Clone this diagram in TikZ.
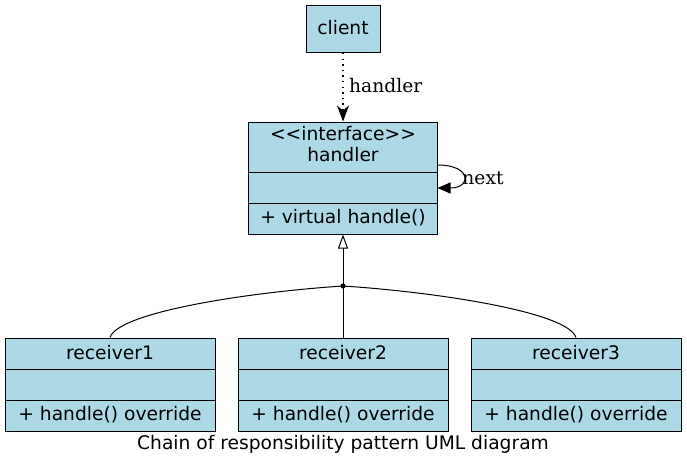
\documentclass[tikz,border=0pt]{standalone}
\usepackage{fontspec}
\setmainfont{DejaVu Sans}
\newfontfamily\lblfont{DejaVu Serif}
\usetikzlibrary{arrows.meta}
\definecolor{clsfill}{HTML}{ADD8E6}
\tikzset{
  cls/.style={draw=black, fill=clsfill, line width=1pt, rectangle, inner sep=0pt},
  txt/.style={inner sep=0pt, font=\fontsize{18.67}{22}\selectfont},
  lbl/.style={inner sep=0pt, font=\lblfont\fontsize{18.67}{22}\selectfont},
  conn/.style={line width=1pt, black},
}
\begin{document}
\begin{tikzpicture}[x=1pt,y=-1pt]
\useasboundingbox (0,0) rectangle (687,467);
% client
\node[cls, minimum width=74pt, minimum height=47pt] (client) at (343,29) {};
\node[txt] (clientt) at (343,28) {client};
% handler
\node[cls, minimum width=189pt, minimum height=112pt] (handler) at (343,178) {};
\draw[line width=1pt] (handler.west |- 0,172) coordinate (h1) -- (handler.east |- 0,172);
\draw[line width=1pt] (handler.west |- 0,203) coordinate (h2) -- (handler.east |- 0,203);
\node[txt] (ht1) at (343,134) {\textless\kern0pt\textless\kern0pt interface\kern0pt\textgreater\kern0pt\textgreater};
\node[txt] (ht2) at (343,155) {handler};
\node[txt] (hm) at (343,218) {+ virtual handle()};
% receivers
\foreach \n/\x in {1/110,2/343,3/576}{
  \node[cls, minimum width=210pt, minimum height=93pt] (r\n) at (\x,384.5) {};
  \draw[line width=1pt] (r\n.west |- 0,369) -- (r\n.east |- 0,369);
  \draw[line width=1pt] (r\n.west |- 0,400) -- (r\n.east |- 0,400);
  \node[txt] (rt\n) at (\x,353) {receiver\n};
  \node[txt] (rm\n) at (\x,415) {+ handle() override};
}
% junction
\fill (343,286) circle (2.6pt);
\coordinate (dot) at (343,286);
\draw[conn, -{Triangle[open, length=14pt, width=10pt]}] (dot) -- (handler.south);
\draw[conn] (dot) -- (r2.north);
\draw[conn] (dot) .. controls (250,292) and (118,312) .. (r1.north);
\draw[conn] (dot) .. controls (436,292) and (568,312) .. (r3.north);
% client -> handler
\draw[conn, dash pattern=on 1.4pt off 4.2pt, line width=1.4pt, -{Stealth[length=16pt, width=12pt, inset=5pt]}] (client.south) -- (handler.north);
\node[lbl, anchor=west] (hl) at (349,86) {handler};
% self loop
\draw[conn, -{Triangle[length=13pt, width=11pt]}] (437.5,165) .. controls (472,165) and (472,188) .. (437.5,188);
\node[lbl] (nl) at (483,178) {next};
% caption
\node[txt] (cap) at (343,444) {Chain of responsibility pattern UML diagram};
\end{tikzpicture}
\end{document}
